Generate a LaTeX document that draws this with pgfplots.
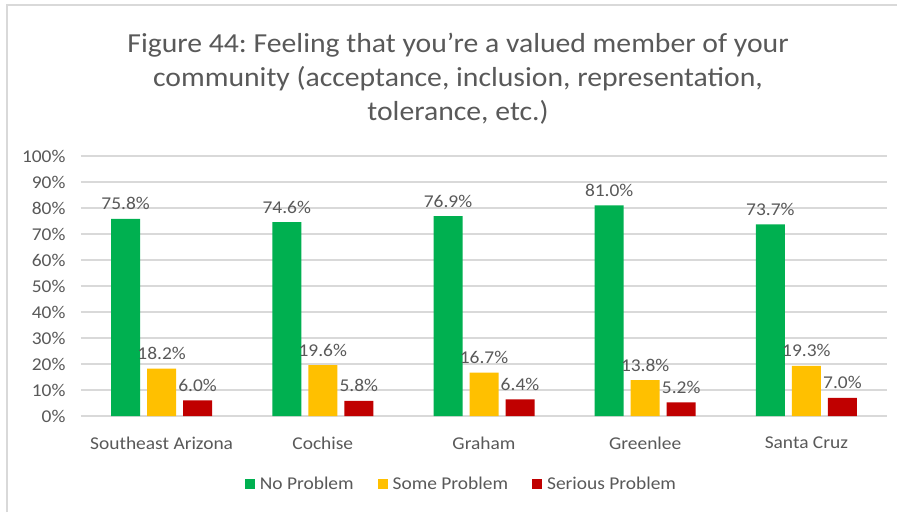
\documentclass[border=0pt]{standalone}
\usepackage{pgfplots}
\pgfplotsset{compat=1.18}
\usepackage{fontspec}
\setmainfont{Carlito}[FakeStretch=1.08]
\frenchspacing
\definecolor{txt}{HTML}{595959}
\definecolor{gridc}{HTML}{D9D9D9}
\definecolor{cgreen}{HTML}{00B050}
\definecolor{cyellow}{HTML}{FFC000}
\definecolor{cred}{HTML}{C00000}
\pgfplotstableread{
x no some serious
0 75.8 18.2 6.0
1 74.6 19.6 5.8
2 76.9 16.7 6.4
3 81.0 13.8 5.2
4 73.7 19.3 7.0
}\datatable
\begin{document}
\begin{tikzpicture}[x=1pt,y=1pt]
\useasboundingbox (0,0) rectangle (897,512);
\fill[white] (0,0) rectangle (897,512);
\draw[gridc, line width=2pt] (7,0) -- (7,507) -- (897,507);
\node[align=center, text=txt, font=\fontsize{27.5}{34}\selectfont] at (458,433) {Figure 44: Feeling that you’re a valued member of your\\community (acceptance, inclusion, representation,\\tolerance, etc.)};
\begin{axis}[
  at={(81pt,96pt)}, anchor=south west,
  scale only axis, width=806pt, height=260pt,
  xmin=-0.5, xmax=4.5, ymin=0, ymax=100,
  ytick={0,10,...,100},
  yticklabel={\pgfmathprintnumber{\tick}\%},
  xtick={0,1,2,3,4},
  xticklabels={Southeast Arizona,Cochise,Graham,Greenlee,Santa Cruz},
  axis line style={draw=none},
  major tick style={draw=none},
  ymajorgrids, grid style={gridc, line width=1.5pt},
  tick label style={text=txt, font=\fontsize{18}{21}\selectfont},
  /pgf/number format/assume math mode=true,
  yticklabel style={xshift=-12pt},
  xticklabel style={yshift=-13pt},
  ybar, bar width=29pt,
  nodes near coords={\pgfmathprintnumber[fixed,fixed zerofill,precision=1]{\pgfplotspointmeta}\%},
  every node near coord/.append style={text=txt, font=\fontsize{18}{21}\selectfont, anchor=base, yshift=9pt},
  legend columns=3,
  legend style={draw=none, at={(0.472,0)}, anchor=center, yshift=-68pt, font=\fontsize{18}{21}\selectfont, text=txt,
    /tikz/every odd column/.append style={column sep=3pt},
    /tikz/every even column/.append style={column sep=22pt}},
  legend image code/.code={\fill[#1] (0pt,-5pt) rectangle (10pt,5pt);},
]
\addplot[fill=cgreen, draw=none, bar shift=-36pt] table[x=x,y=no] {\datatable};
\addplot[fill=cyellow, draw=none, bar shift=0pt] table[x=x,y=some] {\datatable};
\addplot[fill=cred, draw=none, bar shift=36pt] table[x=x,y=serious] {\datatable};
\legend{No Problem, Some Problem, Serious Problem}
\end{axis}
\end{tikzpicture}
\end{document}
